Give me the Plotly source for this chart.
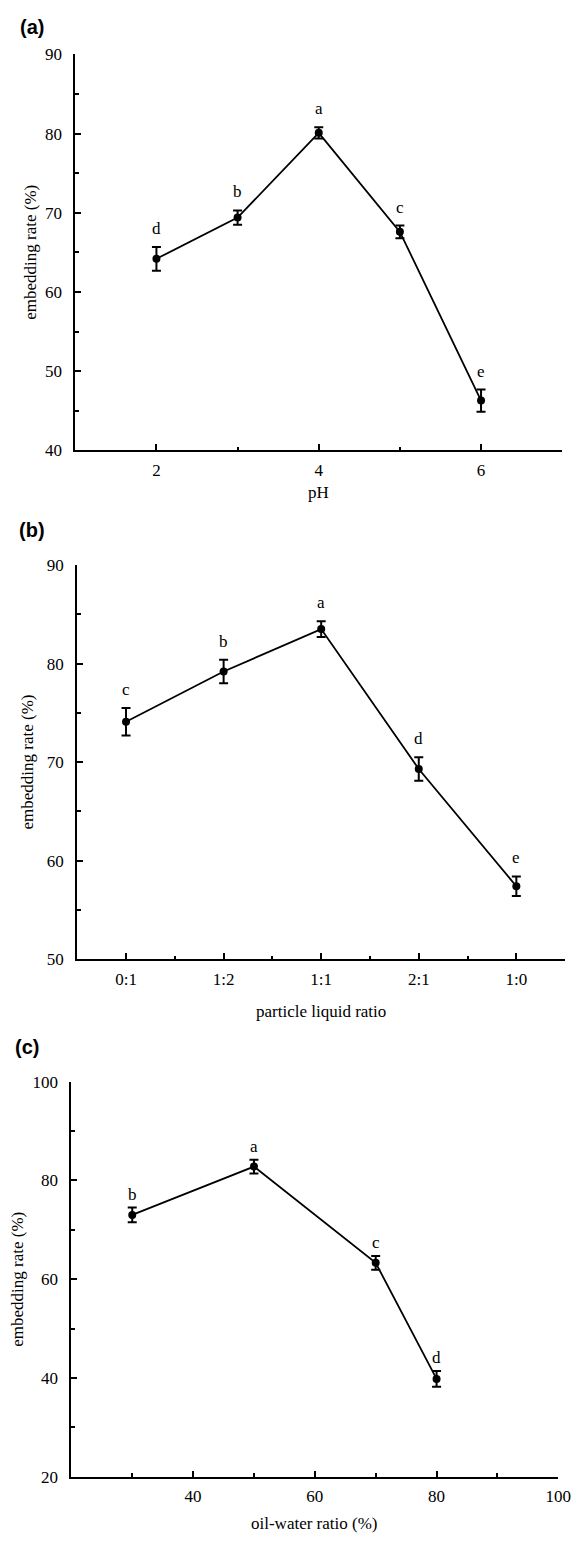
import plotly.graph_objects as go

# ---------------- data ----------------
ph_values = [2, 3, 4, 5, 6]
ph_rate = [64.2, 69.4, 80.1, 67.6, 46.3]
ph_err = [1.5, 0.9, 0.7, 0.8, 1.4]
ph_letters = ["d", "b", "a", "c", "e"]

ratio_labels = ["0:1", "1:2", "1:1", "2:1", "1:0"]
ratio_rate = [74.1, 79.2, 83.5, 69.3, 57.4]
ratio_err = [1.4, 1.2, 0.8, 1.2, 1.0]
ratio_letters = ["c", "b", "a", "d", "e"]

oil_values = [30, 50, 70, 80]
oil_rate = [73.0, 82.8, 63.3, 39.8]
oil_err = [1.5, 1.4, 1.4, 1.6]
oil_letters = ["b", "a", "c", "d"]

panel_labels = ["(a)", "(b)", "(c)"]
x_titles = ["pH", "particle liquid ratio", "oil-water ratio (%)"]
y_title = "embedding rate (%)"

# ---------------- layout geometry (pixels) ----------------
W, H = 584, 1542
SERIF = "Liberation Serif"
FS = 17

def px_x(v):
    return v / W

def px_y(v):
    return 1 - v / H

panels = [
    dict(x0=77, x1=575, y0=46, y1=447),
    dict(x0=79, x1=578, y0=563, y1=962),
    dict(x0=73, x1=571, y0=1086, y1=1486),
]

fig = go.Figure()

ratio_x = list(range(len(ratio_labels)))
series = [
    (ph_values, ph_rate, ph_err, ph_letters),
    (ratio_x, ratio_rate, ratio_err, ratio_letters),
    (oil_values, oil_rate, oil_err, oil_letters),
]

for i, (xs, ys, es, letters) in enumerate(series):
    sfx = "" if i == 0 else str(i + 1)
    fig.add_trace(go.Scatter(
        x=xs, y=ys,
        xaxis="x" + sfx, yaxis="y" + sfx,
        mode="lines+markers",
        line=dict(color="black", width=1.8),
        marker=dict(color="black", size=8),
        error_y=dict(type="data", array=es, visible=True,
                     color="black", thickness=2, width=4.5),
        showlegend=False,
    ))
    ysh = 7 if i < 2 else 2
    for xv, yv, ev, lt in zip(xs, ys, es, letters):
        fig.add_annotation(
            x=xv, y=yv + ev, xref="x" + sfx, yref="y" + sfx,
            text=lt, showarrow=False, yanchor="bottom", yshift=ysh,
            font=dict(family=SERIF, size=FS, color="black"),
        )

axis_common = dict(
    showline=True, linecolor="black", linewidth=2,
    ticks="inside", ticklen=6, tickwidth=2, tickcolor="black",
    showgrid=False, zeroline=False, ticklabeloverflow="allow",
    tickfont=dict(family=SERIF, size=FS, color="black"),
)
minor_common = dict(ticks="inside", ticklen=3.5, tickwidth=2, tickcolor="black", showgrid=False)

x_specs = [
    dict(range=[1, 7], tickmode="array", tickvals=[2, 4, 6],
         minor=dict(tickmode="array", tickvals=[3, 5, 7], **minor_common)),
    dict(range=[-0.5, 4.5], tickmode="array", tickvals=ratio_x, ticktext=ratio_labels,
         minor=dict(tickmode="array", tickvals=[0.5, 1.5, 2.5, 3.5, 4.5], **minor_common)),
    dict(range=[20, 100], tickmode="array", tickvals=[40, 60, 80, 100],
         minor=dict(tickmode="array", tickvals=[30, 50, 70, 90], **minor_common)),
]
y_specs = [
    dict(range=[40, 90], tickmode="array", tickvals=[40, 50, 60, 70, 80, 90],
         minor=dict(tickmode="array", tickvals=[45, 55, 65, 75, 85], **minor_common)),
    dict(range=[50, 90], tickmode="array", tickvals=[50, 60, 70, 80, 90],
         minor=dict(tickmode="array", tickvals=[55, 65, 75, 85], **minor_common)),
    dict(range=[20, 100], tickmode="array", tickvals=[20, 40, 60, 80, 100],
         minor=dict(tickmode="array", tickvals=[30, 50, 70, 90], **minor_common)),
]

ytitle_x = [31, 28, 18]
xtitle_y = [490, 1015, 1533]
label_pos = [(18, 18), (17, 527), (13, 1051)]

layout = dict(
    width=W, height=H,
    margin=dict(l=0, r=0, t=0, b=0),
    paper_bgcolor="white", plot_bgcolor="white",
)
for i, p in enumerate(panels):
    sfx = "" if i == 0 else str(i + 1)
    xa = dict(axis_common, **x_specs[i])
    xa.update(domain=[px_x(p["x0"]), px_x(p["x1"])], anchor="y" + sfx,
              ticklabelstandoff=3)
    ya = dict(axis_common, **y_specs[i])
    ya.update(domain=[px_y(p["y1"]), px_y(p["y0"])], anchor="x" + sfx,
              ticklabelstandoff=8)
    layout["xaxis" + sfx] = xa
    layout["yaxis" + sfx] = ya

fig.update_layout(**layout)

for i, p in enumerate(panels):
    # y-axis title
    fig.add_annotation(
        x=px_x(ytitle_x[i]), y=px_y((p["y0"] + p["y1"]) / 2),
        xref="paper", yref="paper", text=y_title, textangle=-90,
        showarrow=False, xanchor="center", yanchor="middle",
        font=dict(family=SERIF, size=FS, color="black"),
    )
    # x-axis title
    fig.add_annotation(
        x=px_x((p["x0"] + p["x1"]) / 2), y=px_y(xtitle_y[i]),
        xref="paper", yref="paper", text=x_titles[i],
        showarrow=False, xanchor="center", yanchor="middle",
        font=dict(family=SERIF, size=FS, color="black"),
    )
    # panel label
    lx, ly = label_pos[i]
    fig.add_annotation(
        x=px_x(lx), y=px_y(ly), xref="paper", yref="paper",
        text="<b>" + panel_labels[i] + "</b>", showarrow=False,
        xanchor="left", yanchor="middle",
        font=dict(family="Liberation Sans", size=20, color="black"),
    )

fig.write_html("out.html", config={"displayModeBar": False},
               post_script="document.body.style.margin='0px';")
